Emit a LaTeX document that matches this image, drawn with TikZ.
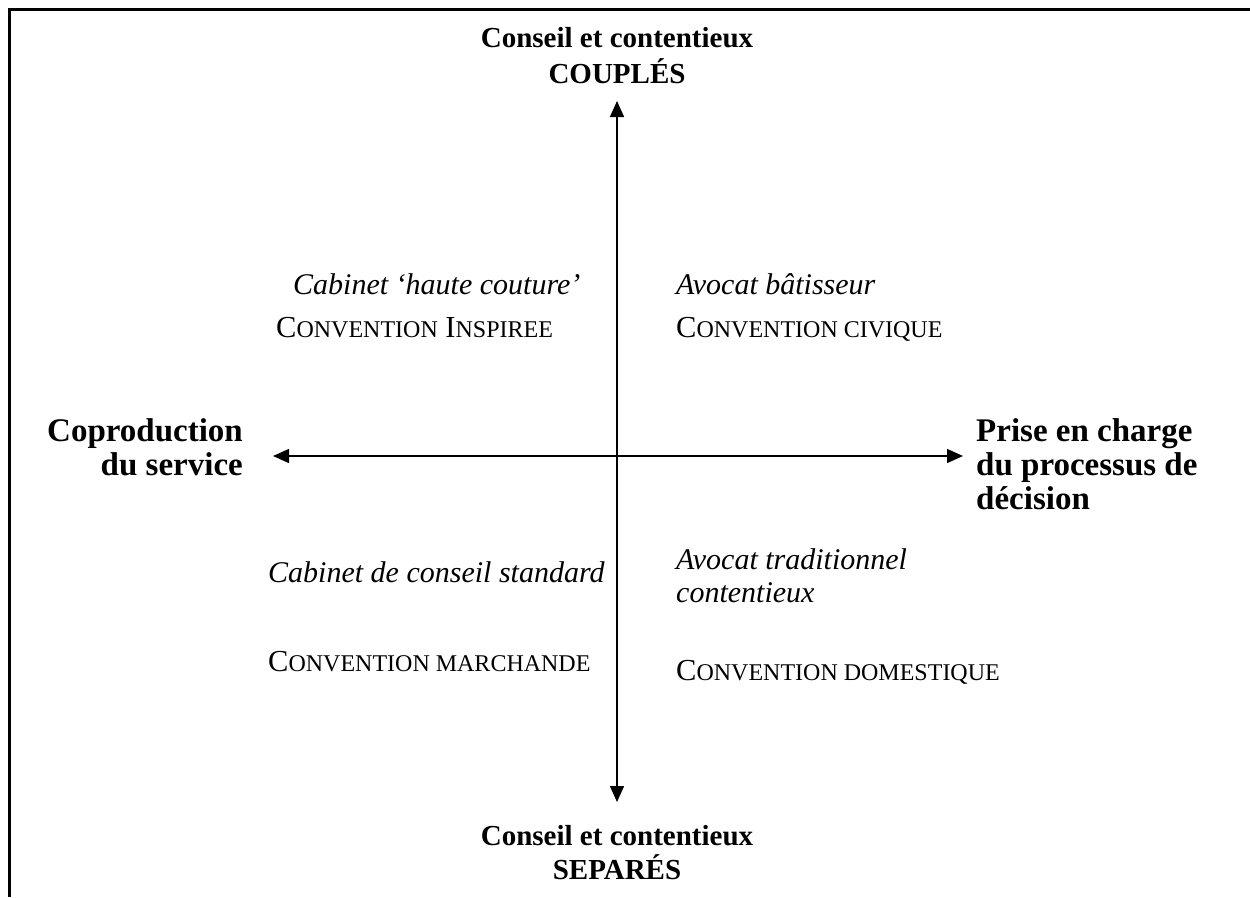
\documentclass[tikz,border=0pt]{standalone}
\usepackage{fontspec}
\setmainfont{Liberation Serif}
\usetikzlibrary{arrows.meta}
\newcommand\smc[1]{{\fontsize{24}{24}\selectfont #1}}
\begin{document}
\begin{tikzpicture}[x=1pt,y=-1pt,
  lab/.style={font=\fontsize{30}{32}\selectfont\itshape, inner sep=0pt},
  conv/.style={font=\fontsize{30.5}{32}\selectfont, inner sep=0pt},
  head/.style={font=\fontsize{29}{33}\selectfont\bfseries, inner sep=0pt},
  side/.style={font=\fontsize{33}{33}\selectfont\bfseries, inner sep=0pt},
  axis/.style={line width=1.5pt, {Triangle[length=16pt,width=14pt]}-{Triangle[length=16pt,width=14pt]}}]
\useasboundingbox (0,0) rectangle (1250,897);
\draw[line width=3pt] (9,897) -- (9,9) -- (1250,9);
\coordinate (top) at (617,101);
\coordinate (bot) at (617,802);
\coordinate (lft) at (273,456);
\coordinate (rgt) at (963,456);
\draw[axis] (top) -- (bot);
\draw[axis] (lft) -- (rgt);
\node[head, anchor=base] (ht1) at (617,47) {Conseil et contentieux};
\node[head, anchor=base] (ht2) at (617,83) {COUPLÉS};
\node[head, anchor=base] (hb1) at (617,845) {Conseil et contentieux};
\node[head, anchor=base] (hb2) at (617,879) {SEPARÉS};
\node[side, anchor=base east] (hl1) at (243,441) {Coproduction};
\node[side, anchor=base east] (hl2) at (243,475) {du service};
\node[side, anchor=base west] (hr1) at (976,441) {Prise en charge};
\node[side, anchor=base west] (hr2) at (976,475) {du processus de};
\node[side, anchor=base west] (hr3) at (976,509) {décision};
\node[lab, anchor=base west] (q1) at (293,294) {Cabinet ‘haute couture’};
\node[lab, anchor=base west] (q2) at (676,294) {Avocat bâtisseur};
\node[conv, anchor=base west] (c1) at (276,337) {C\smc{ONVENTION} I\smc{NSPIREE}};
\node[conv, anchor=base west] (c2) at (676,337) {C\smc{ONVENTION CIVIQUE}};
\node[lab, anchor=base west] (q3) at (268,582) {Cabinet de conseil standard};
\node[lab, anchor=base west] (q4a) at (676,569) {Avocat traditionnel};
\node[lab, anchor=base west] (q4b) at (676,602) {contentieux};
\node[conv, anchor=base west] (c3) at (268,671) {C\smc{ONVENTION MARCHANDE}};
\node[conv, anchor=base west] (c4) at (676,680) {C\smc{ONVENTION DOMESTIQUE}};
\end{tikzpicture}
\end{document}
